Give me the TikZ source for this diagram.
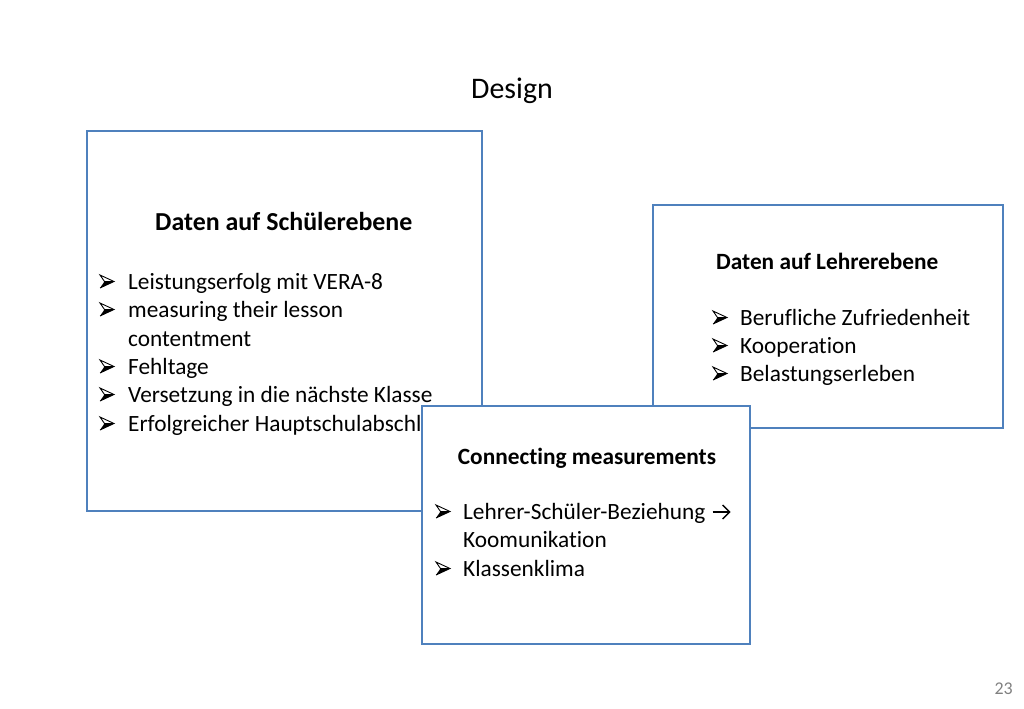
\documentclass[tikz,border=0pt]{standalone}
\usepackage{fontspec}
\setmainfont{Carlito}[Ligatures={NoCommon}]
\definecolor{boxblue}{HTML}{4F81BD}
\tikzset{
  panel/.style={draw=boxblue, line width=2bp, fill=white},
  txt/.style={anchor=base west, inner sep=0pt, font=\fontsize{23.4}{28}\selectfont},
  head/.style={anchor=base west, inner sep=0pt, font=\fontsize{23.4}{28}\selectfont\bfseries},
  arrbul/.pic={
    \fill[black] (4.5,-6.5) -- (14,-6.5) -- (0,0) -- cycle;
    \draw[black, line width=0.9bp, line join=miter] (0,0) -- (14,-6.5) -- (0,-13) -- (4.5,-6.5) -- (14,-6.5);
  },
}
\begin{document}
\begin{tikzpicture}[x=1bp,y=-1bp]
\useasboundingbox (0,0) rectangle (1024,709);
\node[anchor=base, inner sep=0pt, font=\fontsize{30}{36}\selectfont] (title) at (512,99) {Design};
% box 1
\draw[panel] (87,131) rectangle (482,511);
\node[head, font=\fontsize{26}{30}\selectfont\bfseries] (h1) at (155,230) {Daten auf Schülerebene};
\pic at (100,288) {arrbul};
\node[txt] (t11) at (128,289) {Leistungserfolg mit VERA-8};
\pic at (100,316) {arrbul};
\node[txt] (t12) at (128,317) {measuring their lesson};
\node[txt] (t12b) at (128,346) {contentment};
\pic at (100,373) {arrbul};
\node[txt] (t13) at (128,374) {Fehltage};
\pic at (100,401) {arrbul};
\node[txt] (t14) at (128,402) {Versetzung in die nächste Klasse};
\pic at (100,430) {arrbul};
\node[txt] (t15) at (128,431) {Erfolgreicher Hauptschulabschluss};
% box 2
\draw[panel] (653,205) rectangle (1003,428);
\node[head] (h2) at (716,269) {Daten auf Lehrerebene};
\pic at (713,324) {arrbul};
\node[txt] (t21) at (740,325) {Berufliche Zufriedenheit};
\pic at (713,352) {arrbul};
\node[txt] (t22) at (740,353) {Kooperation};
\pic at (713,380) {arrbul};
\node[txt] (t23) at (740,381) {Belastungserleben};
% box 3
\draw[panel] (422,406) rectangle (750,644);
\node[anchor=base, inner sep=0pt, font=\fontsize{23.4}{28}\selectfont\bfseries] (h3) at (587,464) {Connecting measurements};
\pic at (436,518) {arrbul};
\node[txt] (t31) at (463,519) {Lehrer-Schüler-Beziehung};
\coordinate (a1) at ([xshift=7bp,yshift=7bp]t31.base east);
\draw[line width=1.4bp] (a1) -- ++(17,0);
\draw[line width=1.4bp, line join=miter] ([xshift=10bp,yshift=-7bp]a1) -- ([xshift=17bp]a1) -- ([xshift=10bp,yshift=7bp]a1);
\node[txt] (t31b) at (463,547) {Koomunikation};
\pic at (436,575) {arrbul};
\node[txt] (t32) at (463,576) {Klassenklima};
% page number
\node[anchor=base east, inner sep=0pt, text=gray, font=\fontsize{18}{20}\selectfont] (pg) at (1013,694) {23};
\end{tikzpicture}
\end{document}
